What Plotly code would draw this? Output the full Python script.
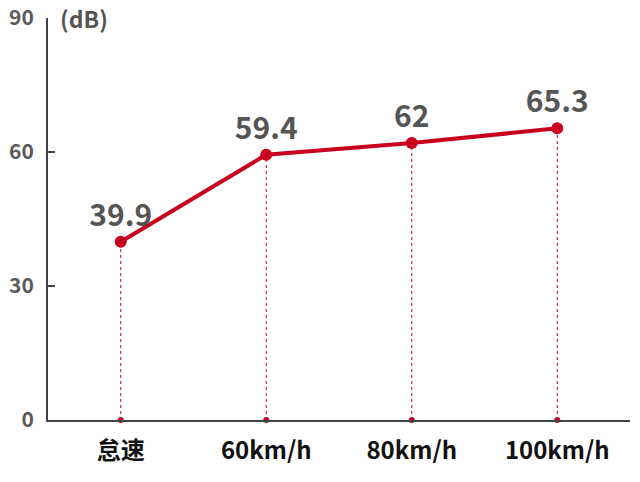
import plotly.graph_objects as go

categories = ["怠速", "60km/h", "80km/h", "100km/h"]
noise_db = [39.9, 59.4, 62, 65.3]
label_texts = ["39.9", "59.4", "62", "65.3"]
y_ticks = [0, 30, 60, 90]

RED = "#c8001e"
GRAY = "#555555"
FONT = "Noto Sans CJK SC"

fig = go.Figure()

# dotted drop lines from each point to the x axis
for i, v in enumerate(noise_db):
    fig.add_trace(go.Scatter(x=[i, i], y=[0, v], mode="lines",
                             line=dict(color=RED, width=1, dash="dot"),
                             hoverinfo="skip", showlegend=False))
# base dots on the axis
fig.add_trace(go.Scatter(x=list(range(len(categories))), y=[0] * len(categories),
                         mode="markers", marker=dict(color=RED, size=6),
                         cliponaxis=False, showlegend=False, hoverinfo="skip"))
# main line
fig.add_trace(go.Scatter(x=list(range(len(categories))), y=noise_db,
                         mode="lines+markers+text",
                         line=dict(color=RED, width=4),
                         marker=dict(color=RED, size=12),
                         text=label_texts, textposition="top center",
                         textfont=dict(family=FONT, size=30, color=GRAY, weight="bold"),
                         cliponaxis=False, showlegend=False))

fig.update_layout(
    width=632, height=474,
    margin=dict(l=40, r=10, t=10, b=62, autoexpand=False),
    paper_bgcolor="white", plot_bgcolor="white",
    font=dict(family=FONT),
    xaxis=dict(range=[-0.5, 3.5], tickmode="array", automargin=False,
               tickvals=list(range(len(categories))), ticktext=categories,
               showgrid=False, zeroline=False, showline=True,
               linecolor="#444444", linewidth=2, ticks="",
               ticklabelstandoff=8,
               tickfont=dict(family=FONT, size=24, color="#111111", weight="bold")),
    yaxis=dict(range=[0, 90], tickmode="array", tickvals=y_ticks, automargin=False,
               showgrid=False, zeroline=False, showline=True,
               linecolor="#444444", linewidth=2,
               ticks="inside", ticklen=7, tickwidth=1.5, tickcolor="#444444",
               ticklabelstandoff=8, ticklabeloverflow="allow",
               tickfont=dict(family=FONT, size=21, color="#5a5a5a", weight="bold")),
    annotations=[dict(text="(dB)", xref="paper", yref="y", x=0.018, y=90,
                      xanchor="left", yanchor="middle", showarrow=False,
                      font=dict(family=FONT, size=23, color=GRAY, weight="bold"))],
)

fig.write_html("out.html")
